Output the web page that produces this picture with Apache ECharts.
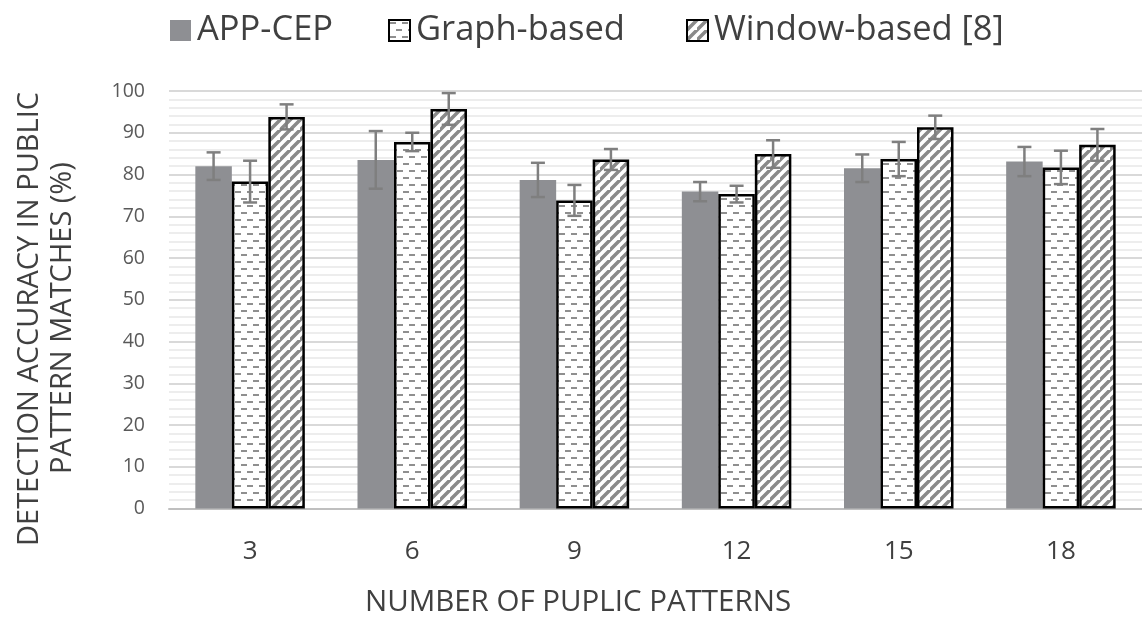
<!DOCTYPE html>
<html>
<head>
<meta charset="utf-8">
<script src="https://cdn.jsdelivr.net/npm/echarts@6/dist/echarts.min.js"></script>
<style>html,body{margin:0;padding:0;background:#fff}#c{width:1142px;height:618px}</style>
</head>
<body>
<div id="c"></div>
<script>
// ---- data ----
const categories = ['3', '6', '9', '12', '15', '18'];
const seriesNames = ['APP-CEP', 'Graph-based', 'Window-based [8]'];
const appCep      = [82.0, 83.5, 78.7, 75.9, 81.5, 83.1];
const appCepErr   = [3.3, 6.9, 4.1, 2.3, 3.3, 3.5];
const graphBased  = [78.3, 87.8, 73.8, 75.3, 83.7, 81.7];
const graphErr    = [5.0, 2.2, 3.7, 2.0, 4.1, 4.0];
const windowBased = [93.8, 95.7, 83.6, 84.9, 91.3, 87.1];
const windowErr   = [3.0, 3.8, 2.5, 3.3, 2.8, 3.8];
const yTicks = [0, 10, 20, 30, 40, 50, 60, 70, 80, 90, 100];

// ---- styles ----
const FONT = '"Open Sans", sans-serif';
const TEXT = '#404040';
const BAR_W = 36.5;

function dashTile() {
  const c = document.createElement('canvas');
  c.width = 12; c.height = 14;
  const g = c.getContext('2d');
  g.fillStyle = '#fff'; g.fillRect(0, 0, 12, 14);
  g.fillStyle = '#8f8f8f';
  g.fillRect(1, 2, 6, 2);
  g.fillRect(7, 9, 5, 2);
  g.fillRect(0, 9, 1, 2);
  return c;
}
function stripeTile() {
  const s = 10;
  const c = document.createElement('canvas');
  c.width = s; c.height = s;
  const g = c.getContext('2d');
  g.fillStyle = '#fff'; g.fillRect(0, 0, s, s);
  g.strokeStyle = '#8a8a8a'; g.lineWidth = 3.5;
  g.beginPath();
  g.moveTo(-2, s + 2); g.lineTo(s + 2, -2);
  g.moveTo(-2 - s, s + 2); g.lineTo(2, -2);
  g.moveTo(s - 2, 2 * s + 2); g.lineTo(2 * s + 2, s - 2);
  g.stroke();
  return c;
}

const errData = [];
[appCep, graphBased, windowBased].forEach((vals, si) => {
  const errs = [appCepErr, graphErr, windowErr][si];
  vals.forEach((v, ci) => errData.push([ci, si, v, errs[ci]]));
});

const chart = echarts.init(document.getElementById('c'), null, {renderer: 'canvas'});

function legendAt(name, left) {
  return {
    data: [name], left: left, top: 8, icon: 'rect',
    itemWidth: 21, itemHeight: 21, itemGap: 0,
    textStyle: {fontFamily: FONT, fontSize: 34.5, color: TEXT, padding: [0, 0, 0, 1]}
  };
}

chart.setOption({
  animation: false,
  backgroundColor: '#fff',
  legend: [legendAt(seriesNames[0], 165), legendAt(seriesNames[1], 383), legendAt(seriesNames[2], 681)],
  grid: {left: 169, top: 91, width: 978, height: 417.5, containLabel: false},
  xAxis: {
    type: 'category', data: categories,
    axisLine: {show: true, lineStyle: {color: '#bfbfbf', width: 2}},
    axisTick: {show: false},
    axisLabel: {fontFamily: FONT, fontSize: 26, color: TEXT, margin: 30}
  },
  yAxis: {
    type: 'value', min: 0, max: 100, interval: 10,
    axisLine: {show: false}, axisTick: {show: false},
    axisLabel: {fontFamily: FONT, fontSize: 19.5, color: '#595959', margin: 24,
      formatter: v => yTicks.includes(v) ? String(v) : ''},
    splitLine: {show: true, lineStyle: {color: '#d9d9d9', width: 2}},
    minorTick: {show: false, splitNumber: 5},
    minorSplitLine: {show: true, lineStyle: {color: '#ededed', width: 2}}
  },
  graphic: [
    {type: 'text', x: 30, y: 319, rotation: Math.PI / 2,
      style: {text: 'DETECTION ACCURACY IN PUBLIC', font: '29px ' + FONT, fill: TEXT,
        textAlign: 'center', textVerticalAlign: 'middle'}},
    {type: 'text', x: 63, y: 318, rotation: Math.PI / 2,
      style: {text: 'PATTERN MATCHES (%)', font: '29px ' + FONT, fill: TEXT,
        textAlign: 'center', textVerticalAlign: 'middle'}},
    {type: 'text', x: 578, y: 603,
      style: {text: 'NUMBER OF PUPLIC PATTERNS', font: '29.5px ' + FONT, fill: TEXT,
        textAlign: 'center', textVerticalAlign: 'middle'}}
  ],
  series: [
    {name: seriesNames[0], type: 'bar', data: appCep, barWidth: BAR_W, barGap: '0%',
      itemStyle: {color: '#8e8f93', borderWidth: 0}},
    {name: seriesNames[1], type: 'bar', data: graphBased, barWidth: BAR_W, barGap: '0%',
      itemStyle: {color: {image: dashTile(), repeat: 'repeat'}, borderColor: '#000', borderWidth: 2.5}},
    {name: seriesNames[2], type: 'bar', data: windowBased, barWidth: BAR_W, barGap: '0%',
      itemStyle: {color: {image: stripeTile(), repeat: 'repeat'}, borderColor: '#000', borderWidth: 2.5}},
    {type: 'custom', data: errData, z: 10, silent: true,
      renderItem: function (params, api) {
        const ci = api.value(0), si = api.value(1), v = api.value(2), e = api.value(3);
        const x = api.coord([ci, v])[0] + (si - 1) * BAR_W;
        const yTop = api.coord([ci, v + e])[1];
        const yBot = api.coord([ci, v - e])[1];
        const h = 7;
        const st = {stroke: '#7f7f7f', lineWidth: 2.5};
        return {type: 'group', children: [
          {type: 'line', shape: {x1: x, y1: yTop, x2: x, y2: yBot}, style: st},
          {type: 'line', shape: {x1: x - h, y1: yTop, x2: x + h, y2: yTop}, style: st},
          {type: 'line', shape: {x1: x - h, y1: yBot, x2: x + h, y2: yBot}, style: st}
        ]};
      }}
  ]
});
</script>
</body>
</html>
